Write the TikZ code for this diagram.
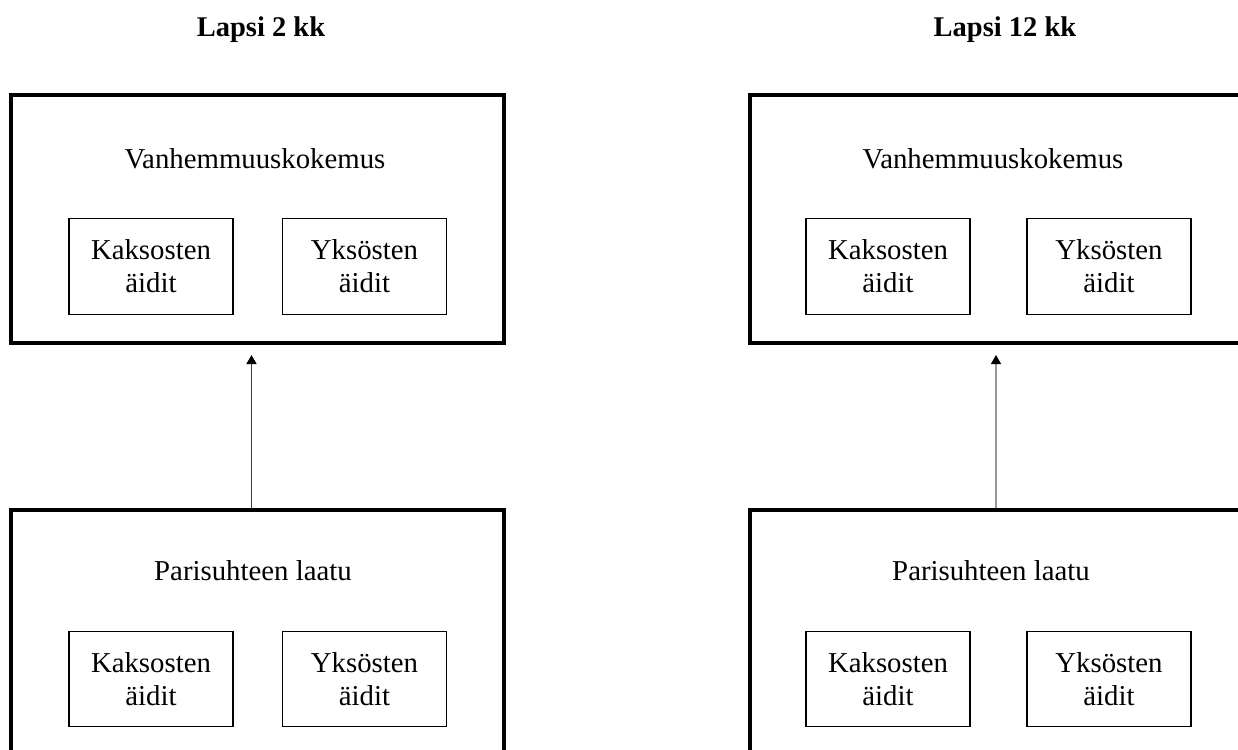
\documentclass[tikz,border=0pt]{standalone}
\usepackage{fontspec}
\setmainfont{Liberation Serif}
\usetikzlibrary{arrows.meta}
\begin{document}
\begin{tikzpicture}[x=1pt,y=-1pt,
    font=\fontsize{28.8}{33}\selectfont,
    bigbox/.style={draw=black,line width=4pt,minimum width=493pt,minimum height=248pt,inner sep=0pt},
    smallbox/.style={draw=black,line width=1.3pt,minimum width=164pt,minimum height=95.5pt,align=center,inner sep=0pt},
    arrowline/.style={line width=1.2pt,shorten >=10pt,-{Triangle[width=10pt,length=9pt,color=black]}}]
    \useasboundingbox (0,0) rectangle (1238,749);

    % insert nodes
    \node[font=\fontsize{28.5}{33}\selectfont\bfseries,anchor=base] (t1) at (261,37) {Lapsi 2 kk};
    \node[font=\fontsize{28.5}{33}\selectfont\bfseries,anchor=base] (t2) at (1005,37) {Lapsi 12 kk};

    \node[bigbox] (vk1) at (257.5,219) {};
    \node[bigbox] (vk2) at (996,219) {};
    \node[bigbox] (pl1) at (257.5,633.5) {};
    \node[bigbox] (pl2) at (996,633.5) {};

    \node[anchor=base] (vk1lab) at (255,168) {Vanhemmuuskokemus};
    \node[anchor=base] (vk2lab) at (993,168) {Vanhemmuuskokemus};
    \node[anchor=base] (pl1lab) at (253,580) {Parisuhteen laatu};
    \node[anchor=base] (pl2lab) at (991,580) {Parisuhteen laatu};

    \node[smallbox] (vk1k) at (151,266.5) {Kaksosten\\äidit};
    \node[smallbox] (vk1y) at (364.5,266.5) {Yksösten\\äidit};
    \node[smallbox] (vk2k) at (888,266.5) {Kaksosten\\äidit};
    \node[smallbox] (vk2y) at (1109,266.5) {Yksösten\\äidit};
    \node[smallbox] (pl1k) at (151,679) {Kaksosten\\äidit};
    \node[smallbox] (pl1y) at (364.5,679) {Yksösten\\äidit};
    \node[smallbox] (pl2k) at (888,679) {Kaksosten\\äidit};
    \node[smallbox] (pl2y) at (1109,679) {Yksösten\\äidit};

    \coordinate (a1) at (251.5,0);
    \coordinate (a2) at (996,0);

    % insert links
    \draw[arrowline,draw=black!75] (pl1.north -| a1) -- (vk1.south -| a1);
    \draw[arrowline,draw=black!40] (pl2.north -| a2) -- (vk2.south -| a2);
\end{tikzpicture}
\end{document}
